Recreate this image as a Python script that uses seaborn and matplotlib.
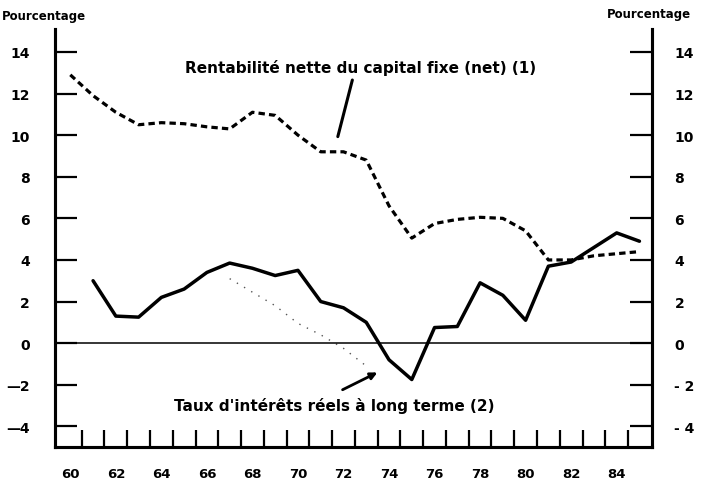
import numpy as np
import pandas as pd
import matplotlib
matplotlib.use("Agg")
import matplotlib.pyplot as plt
import seaborn as sns

# Rentabilite nette du capital fixe (1)  -- dashed series
years_rent = list(range(1960, 1986))
rentabilite = [12.9, 11.9, 11.1, 10.5, 10.6, 10.55, 10.4, 10.3, 11.1, 10.95,
               10.0, 9.2, 9.2, 8.8, 6.6, 5.05, 5.75, 5.95, 6.05, 6.0,
               5.4, 4.0, 4.0, 4.2, 4.3, 4.4]

# Taux d'interets reels a long terme (2) -- solid series
years_taux = list(range(1961, 1986))
taux = [3.0, 1.3, 1.25, 2.2, 2.6, 3.4, 3.85, 3.6, 3.25, 3.5,
        2.0, 1.7, 1.0, -0.8, -1.75, 0.75, 0.8, 2.9, 2.3, 1.1,
        3.7, 3.9, 4.6, 5.3, 4.9]

# faint dotted trace visible on the scan
years_faint = [1967, 1968, 1969, 1970, 1971, 1972, 1973]
faint = [3.1, 2.45, 1.8, 0.95, 0.4, -0.25, -1.1]

y_ticks = [14, 12, 10, 8, 6, 4, 2, 0, -2, -4]
x_labels = ["60", "62", "64", "66", "68", "70", "72", "74", "76", "78", "80", "82", "84"]
x_label_years = list(range(1960, 1986, 2))

df_rent = pd.DataFrame({"annee": years_rent, "valeur": rentabilite})
df_taux = pd.DataFrame({"annee": years_taux, "valeur": taux})
df_faint = pd.DataFrame({"annee": years_faint, "valeur": faint})

sns.set_style("ticks")
plt.rcParams['font.family'] = ['DejaVu Sans']
plt.rcParams.update({"text.color": "black", "xtick.color": "black",
                     "ytick.color": "black", "axes.edgecolor": "black"})

fig = plt.figure(figsize=(7.12, 4.85), dpi=100)
ax = fig.add_axes([0.077, 0.076, 0.839, 0.862])

sns.lineplot(data=df_rent, x="annee", y="valeur", ax=ax, color="black",
             linewidth=2.3, linestyle=(0, (2.0, 1.3)))
sns.lineplot(data=df_taux, x="annee", y="valeur", ax=ax, color="black",
             linewidth=2.5)
sns.lineplot(data=df_faint, x="annee", y="valeur", ax=ax, color="#555555",
             linewidth=1.0, linestyle=(0, (1, 5)))
ax.axhline(0, color="black", linewidth=1.1)

ax.set_xlim(1959.32, 1985.56)
ax.set_ylim(-5, 15.1)
ax.set_xlabel("")
ax.set_ylabel("")

# year boundaries as inward ticks, labels centred on each year
ax.set_xticks([y + 0.5 for y in range(1960, 1985)])
ax.set_xticklabels([])
ax.set_xticks(x_label_years, minor=True)
ax.set_xticklabels(x_labels, minor=True, fontsize=9.5, fontweight="bold")
ax.tick_params(axis="x", which="major", direction="in", length=12, width=1.6)
ax.tick_params(axis="x", which="minor", length=0, pad=14)

ax.set_yticks(y_ticks)
ax.set_yticklabels([str(v) if v >= 0 else "\u2014" + str(-v) for v in y_ticks],
                   fontsize=10, fontweight="bold")
ax.tick_params(axis="y", direction="in", length=16, width=1.6, pad=18)

ax2 = ax.twinx()
ax2.set_ylim(ax.get_ylim())
ax2.set_yticks(y_ticks)
ax2.set_yticklabels([str(v) if v >= 0 else "- " + str(-v) for v in y_ticks],
                    fontsize=10, fontweight="bold")
ax2.tick_params(axis="y", direction="in", length=16, width=1.6, pad=16)

for a in (ax, ax2):
    a.spines["top"].set_visible(False)
    for s in ("left", "right", "bottom"):
        a.spines[s].set_linewidth(2.2)

ax.text(1972.74, 13.27, "Rentabilité nette du capital fixe (net) (1)",
        ha="center", va="center", fontsize=11, fontweight="bold")
ax.annotate("", xy=(1971.72, 9.8), xytext=(1972.42, 12.78),
            arrowprops=dict(arrowstyle="-", color="black", lw=2.2))

ax.text(1971.6, -2.95, "Taux d'intérêts réels à long terme (2)",
        ha="center", va="center", fontsize=11, fontweight="bold")
ax.annotate("", xy=(1973.6, -1.35), xytext=(1971.85, -2.3),
            arrowprops=dict(arrowstyle="-|>", color="black", lw=2.0,
                            mutation_scale=10))

fig.text(0.002, 0.965, "Pourcentage", ha="left", va="center",
         fontsize=8.5, fontweight="bold")
fig.text(0.912, 0.971, "Pourcentage", ha="center", va="center",
         fontsize=8.5, fontweight="bold")

fig.savefig("out.png", dpi=100)
